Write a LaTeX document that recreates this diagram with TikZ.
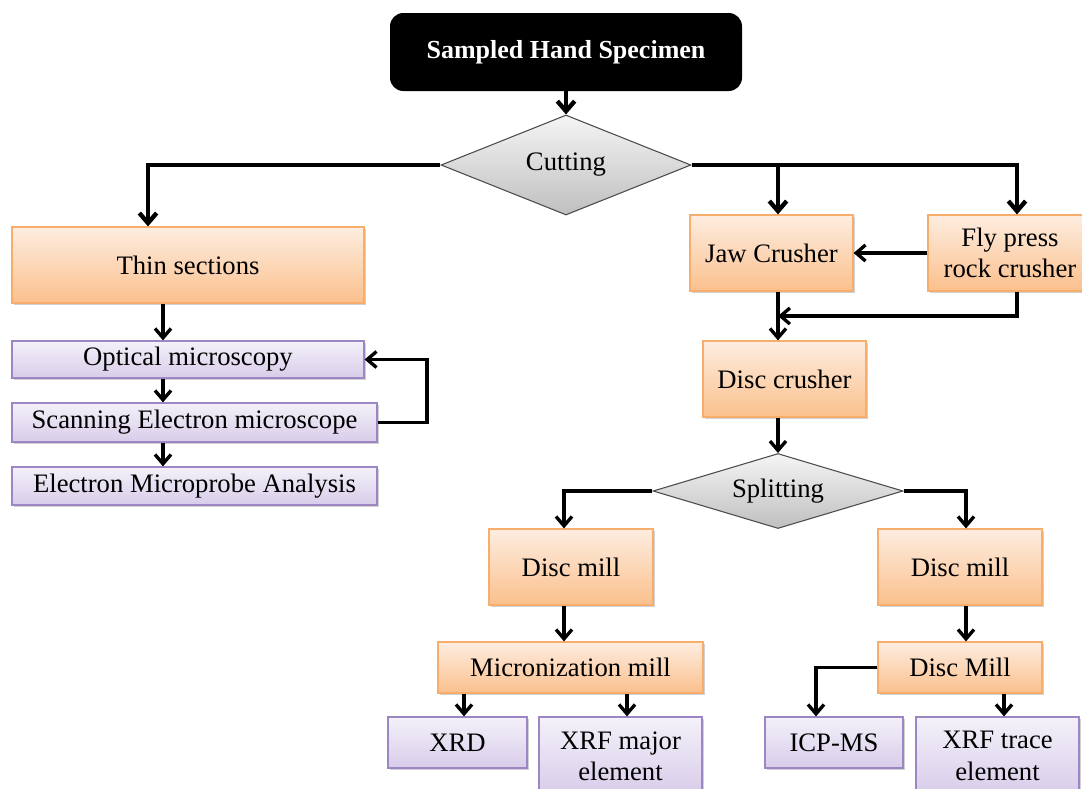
\documentclass[tikz,border=0pt]{standalone}
\usepackage{fontspec}
\setmainfont{Liberation Serif}
\usetikzlibrary{arrows.meta,shapes.geometric,shadows}
\newdimen\px \px=0.75pt
\definecolor{otop}{HTML}{FDEDE0}
\definecolor{obot}{HTML}{FBC08D}
\definecolor{oline}{HTML}{F7AE6C}
\definecolor{ptop}{HTML}{F4F1F9}
\definecolor{pbot}{HTML}{D8CCEA}
\definecolor{pline}{HTML}{9C86C4}
\begin{document}
\begin{tikzpicture}[x=0.75pt,y=-0.75pt,
  font=\fontsize{20}{23.5}\selectfont,
  basebox/.style={rectangle, inner sep=0pt, align=center, line width=0.9pt,
    drop shadow={shadow xshift=1.2pt, shadow yshift=-1.2pt, opacity=0.3, fill=black!60}},
  obox/.style={basebox, draw=oline, top color=otop, bottom color=obot},
  pbox/.style={basebox, draw=pline, top color=ptop, bottom color=pbot},
  dbox/.style={diamond, aspect=2.5, inner sep=0pt, draw=black!70, line width=0.8pt,
    top color=black!4, bottom color=black!25},
  tbox/.style={rectangle, rounded corners=10pt, fill=black, text=white, font=\fontsize{19.5}{23}\selectfont\bfseries, inner sep=0pt},
  arr/.style={line width=2.5pt, -{Straight Barb[length=7pt,width=12pt]}},
  arrT/.style={line width=3.3pt, -{Straight Barb[length=7.5pt,width=13pt]}}
]
\useasboundingbox (0,0) rectangle (1082,789);

% column coordinates
\coordinate (c148) at (148,0);
\coordinate (c163) at (163,0);
\coordinate (c427) at (427,0);
\coordinate (c778) at (778,0);
\coordinate (c1017) at (1017,0);
\coordinate (c564) at (564,0);
\coordinate (c966) at (966,0);
\coordinate (c464) at (464,0);
\coordinate (c627) at (627,0);
\coordinate (c816) at (816,0);
\coordinate (c1004) at (1004,0);
\coordinate (j316) at (778,316);

% nodes
\node[tbox, minimum width=352\px, minimum height=78\px] (title) at (566,52) {Sampled Hand Specimen};
\node[dbox, minimum width=250\px, minimum height=100\px] (cut) at (566,165) {Cutting};

\node[obox, minimum width=352\px, minimum height=76\px] (thin) at (188,265) {Thin sections};
\node[pbox, minimum width=352\px, minimum height=37\px] (opt) at (188,359.5) {Optical microscopy};
\node[pbox, minimum width=365\px, minimum height=39\px] (sem) at (194.5,422.5) {Scanning Electron microscope};
\node[pbox, minimum width=365\px, minimum height=38\px] (ema) at (194.5,486) {Electron Microprobe Analysis};

\node[obox, minimum width=163\px, minimum height=76\px] (jaw) at (771.5,253) {Jaw Crusher};
\node[obox, minimum width=164\px, minimum height=76\px] (fly) at (1010,253) {Fly press\\rock crusher};
\node[obox, minimum width=163\px, minimum height=76\px] (disc) at (784.5,379) {Disc crusher};

\node[dbox, minimum width=250\px, minimum height=75\px] (split) at (778,491) {Splitting};

\node[obox, minimum width=164\px, minimum height=76\px] (dm1) at (571,567) {Disc mill};
\node[obox, minimum width=164\px, minimum height=76\px] (dm2) at (960,567) {Disc mill};
\node[obox, minimum width=265\px, minimum height=51\px] (micron) at (570.5,667.5) {Micronization mill};
\node[obox, minimum width=164\px, minimum height=51\px] (dmill) at (960,667.5) {Disc Mill};

\node[pbox, minimum width=139\px, minimum height=51\px] (xrd) at (457.5,742.5) {XRD};
\node[pbox, minimum width=163\px, minimum height=78\px] (xrfm) at (620.5,756) {XRF major\\element};
\node[pbox, minimum width=138\px, minimum height=51\px] (icp) at (834,742.5) {ICP-MS};
\node[pbox, minimum width=163\px, minimum height=78\px] (xrft) at (997.5,756) {XRF trace\\element};

% connectors
\draw[arrT] (title.south) -- (cut.north);
\draw[arrT] (cut.west) -| (thin.north -| c148);
\draw[arrT] (cut.east) -| (fly.north -| c1017);
\draw[arrT] (cut.east -| c778) -- (jaw.north -| c778);

\draw[arr] (thin.south -| c163) -- (opt.north -| c163);
\draw[arr] (opt.south -| c163) -- (sem.north -| c163);
\draw[arr] (sem.south -| c163) -- (ema.north -| c163);
\draw[arr] (sem.east) -- (sem.east -| c427) |- (opt.east);

\draw[arr] (fly.west) -- (jaw.east);
\draw[arr] (jaw.south -| c778) -- (disc.north -| c778);
\draw[arr] (fly.south -| c1017) |- (j316);
\draw[arr] (disc.south -| split.north) -- (split.north);

\draw[arr] (split.west) -| (dm1.north -| c564);
\draw[arr] (split.east) -| (dm2.north -| c966);
\draw[arr] (dm1.south -| c564) -- (micron.north -| c564);
\draw[arr] (dm2.south -| c966) -- (dmill.north -| c966);
\draw[arr] (micron.south -| c464) -- (xrd.north -| c464);
\draw[arr] (micron.south -| c627) -- (xrfm.north -| c627);
\draw[arr] (dmill.west) -| (icp.north -| c816);
\draw[arr] (dmill.south -| c1004) -- (xrft.north -| c1004);
\end{tikzpicture}
\end{document}
